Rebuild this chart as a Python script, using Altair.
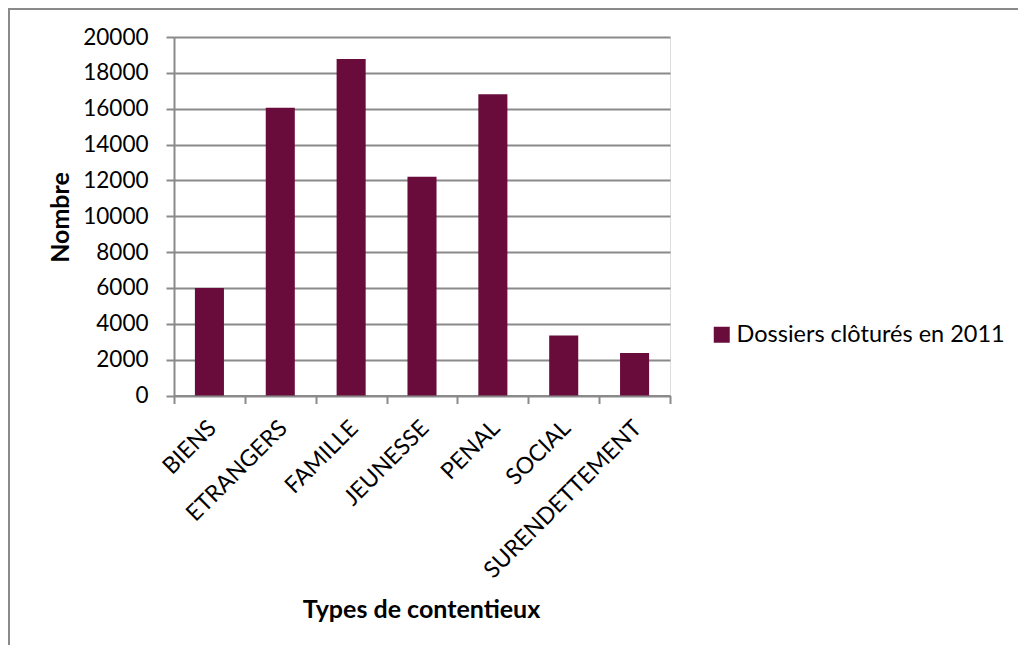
import altair as alt
import pandas as pd

categories = ["BIENS", "ETRANGERS", "FAMILLE", "JEUNESSE", "PENAL", "SOCIAL", "SURENDETTEMENT"]
values = [6000, 16050, 18770, 12200, 16800, 3350, 2370]
series_name = "Dossiers clôturés en 2011"
y_ticks = [0, 2000, 4000, 6000, 8000, 10000, 12000, 14000, 16000, 18000, 20000]

df = pd.DataFrame({"cat": categories, "value": values, "series": [series_name] * len(categories)})

FONT = "Lato"
GRAY = "#8A8A8A"
BAR = "#690C3C"

bars = alt.Chart(df).mark_bar(width=alt.RelativeBandSize(0.41)).encode(
    x=alt.X(
        "cat:N",
        sort=categories,
        scale=alt.Scale(paddingInner=0, paddingOuter=0),
        axis=alt.Axis(
            title="Types de contentieux",
            titleFont=FONT, titleFontSize=25, titleFontWeight="bold", titleColor="#000000",
            titleX=247, titleY=214, titleAlign="center", titleBaseline="middle",
            labelAngle=-45, labelAlign="right", labelBaseline="top",
            labelFont=FONT, labelFontSize=23, labelColor="#000000",
            labelPadding=13, labelOffset=-5, labelLimit=400,
            tickBand="extent", ticks=True, tickSize=8, tickColor=GRAY, tickWidth=2,
            domainColor=GRAY, domainWidth=2, grid=False,
        ),
    ),
    y=alt.Y(
        "value:Q",
        scale=alt.Scale(domain=[0, 20000], nice=False),
        axis=alt.Axis(
            values=y_ticks, format="d",
            title="Nombre",
            titleFont=FONT, titleFontSize=25, titleFontWeight="bold", titleColor="#000000",
            titleX=-114, titleY=180, titleAngle=270, titleAlign="center", titleBaseline="middle",
            labelFont=FONT, labelFontSize=22.5, labelColor="#000000", labelPadding=18,
            tickSize=8, tickColor=GRAY, tickWidth=2,
            domainColor=GRAY, domainWidth=2,
            grid=True, gridColor=GRAY, gridWidth=2,
        ),
    ),
    color=alt.Color(
        "series:N",
        scale=alt.Scale(range=[BAR]),
        legend=alt.Legend(
            title=None, orient="none", legendX=536, legendY=286, padding=0,
            symbolType="square", symbolSize=256, symbolStrokeWidth=0,
            labelFont=FONT, labelFontSize=23.5, labelColor="#000000", labelOffset=3,
            labelLimit=400,
        ),
    ),
)

frame_df = pd.DataFrame({"k": [0]})
frame_top = alt.Chart(frame_df).mark_rule(color=GRAY, strokeWidth=2).encode(
    x=alt.value(-166), x2=alt.value(860), y=alt.value(-28)
)
frame_left = alt.Chart(frame_df).mark_rule(color=GRAY, strokeWidth=2).encode(
    x=alt.value(-165), y=alt.value(-29), y2=alt.value(620)
)

chart = alt.layer(bars, frame_top, frame_left).properties(
    width=496, height=358.5,
    padding={"left": 166, "top": 29, "right": 348, "bottom": 249},
    autosize="none",
).configure_view(strokeWidth=0).configure(background="white")

chart.save("out.html", embed_options={"renderer": "svg", "actions": False})
